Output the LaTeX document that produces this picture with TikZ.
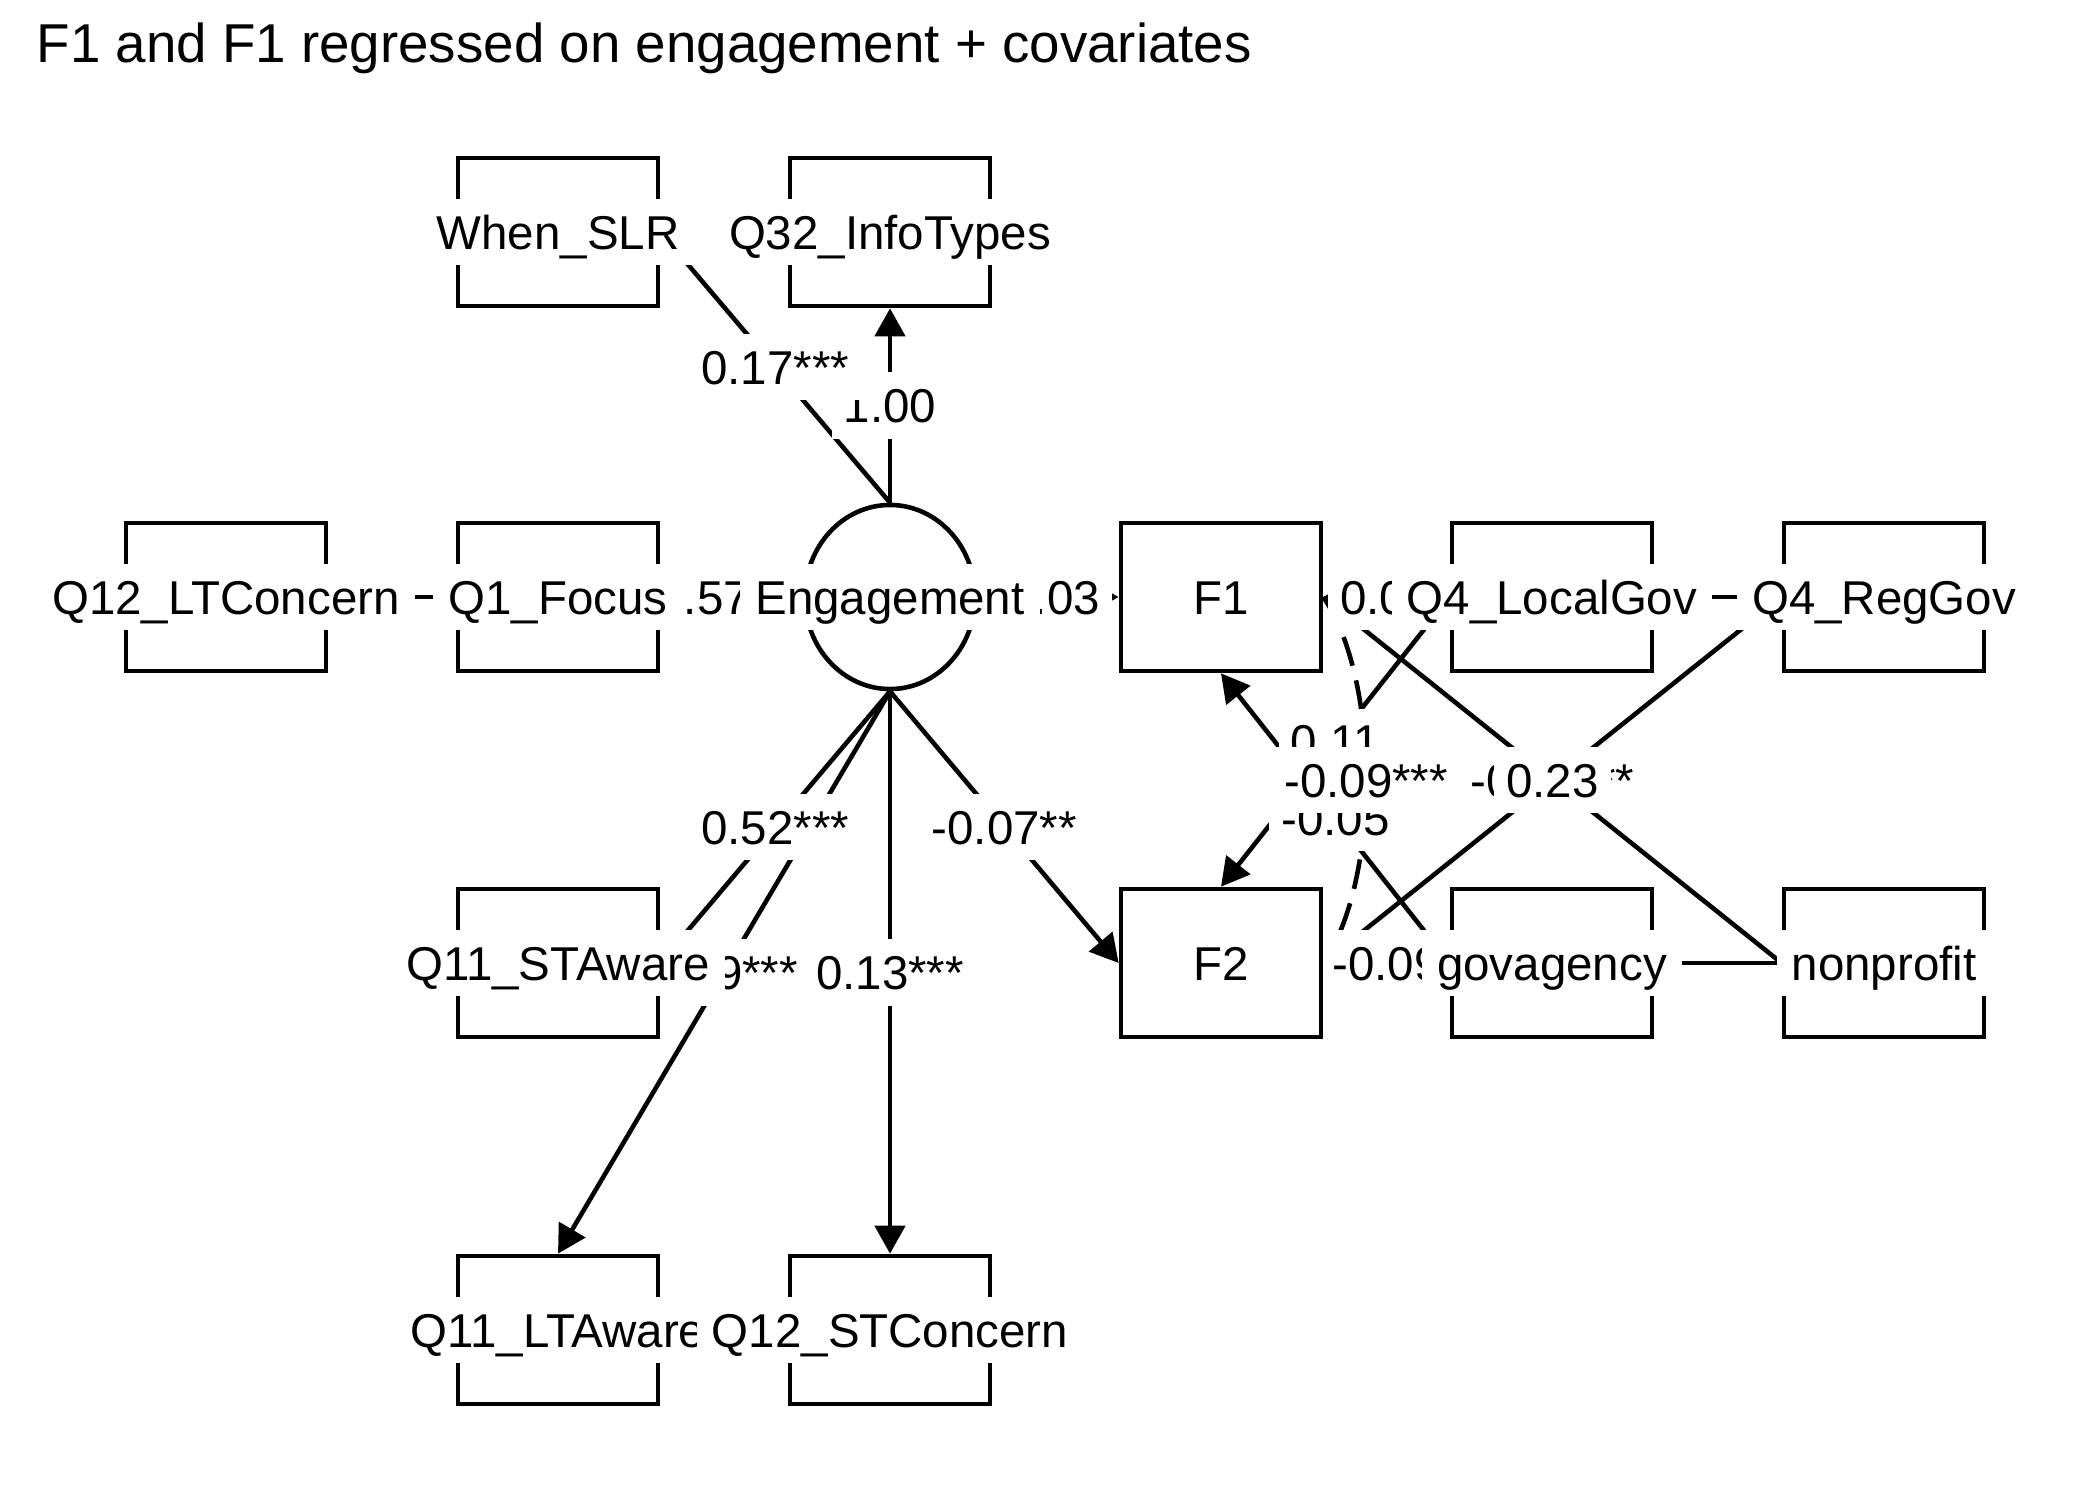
\documentclass[tikz,border=0pt]{standalone}
\usepackage{fontspec}
\setmainfont{Liberation Sans}
\usetikzlibrary{arrows.meta,shapes.geometric}
\pgfdeclarelayer{bglayer}
\pgfdeclarelayer{edgelayer}
\pgfdeclarelayer{labellayer}
\pgfsetlayers{bglayer,edgelayer,labellayer,main}
\begin{document}
\begin{tikzpicture}[x=0.01cm,y=-0.01cm,
  box/.style={draw,line width=1.3pt,fill=white,rectangle,minimum width=2cm,minimum height=1.48cm,inner sep=0pt},
  lat/.style={draw,line width=1.3pt,fill=white,ellipse,minimum width=1.7cm,minimum height=1.84cm,inner sep=0pt},
  txt/.style={fill=white,inner xsep=0.15cm,inner ysep=0.16cm,text height=0.34cm,text depth=0cm,font=\fontsize{13.5pt}{15pt}\selectfont},
  lbl/.style={txt,inner xsep=0.12cm},
  reg/.style={line width=1.3pt,-{Triangle[length=0.28cm,width=0.30cm]}},
  cov/.style={line width=1.3pt,dash pattern=on 0.3cm off 0.15cm},
]
\begin{pgfonlayer}{bglayer}
\fill[white] (0,0) rectangle (2100,1500);
\end{pgfonlayer}
\useasboundingbox (0,0) rectangle (2100,1500);

\node[anchor=base west,inner sep=0pt,font=\fontsize{15.56pt}{18pt}\selectfont] (title) at (36,63) {F1 and F1 regressed on engagement + covariates};

% boxes
\node[box] (WSLR) at (558,232) {};
\node[box] (Q32) at (890,232) {};
\node[box] (Q12LT) at (226,597) {};
\node[box] (Q1) at (558,597) {};
\node[lat] (Eng) at (890,597) {};
\node[box] (F1) at (1221,597) {};
\node[box] (LG) at (1552,597) {};
\node[box] (RG) at (1884,597) {};
\node[box] (Q11ST) at (558,963) {};
\node[box] (F2) at (1221,963) {};
\node[box] (GA) at (1552,963) {};
\node[box] (NP) at (1884,963) {};
\node[box] (Q11LT) at (558,1330) {};
\node[box] (Q12ST) at (890,1330) {};

% node texts
\node[txt] (WSLRt) at (WSLR) {When\_SLR};
\node[txt] (Q32t) at (Q32) {Q32\_InfoTypes};
\node[txt] (Q12LTt) at (Q12LT) {Q12\_LTConcern};
\node[txt] (Q1t) at (Q1) {Q1\_Focus};
\node[txt] (Engt) at (Eng) {Engagement};
\node[txt] (F1t) at (F1) {F1};
\node[txt] (LGt) at (LG) {Q4\_LocalGov};
\node[txt] (RGt) at (RG) {Q4\_RegGov};
\node[txt] (Q11STt) at (Q11ST) {Q11\_STAware};
\node[txt] (F2t) at (F2) {F2};
\node[txt] (GAt) at (GA) {govagency};
\node[txt] (NPt) at (NP) {nonprofit};
\node[txt] (Q11LTt) at (Q11LT) {Q11\_LTAware};
\node[txt] (Q12STt) at (Q12ST) {Q12\_STConcern};

% edges
\begin{pgfonlayer}{edgelayer}
\draw[reg] (Eng.north) -- (Q32.south);
\draw[reg] (Eng.north) -- (WSLR.east);
\draw[reg] (Eng.west) -- (Q1.east);
\draw[reg] (Eng.west) -- (Q12LT.east);
\draw[reg] (Eng.south) -- (Q11ST.east);
\draw[reg] (Eng.south) -- (Q11LT.north);
\draw[reg] (Eng.south) -- (Q12ST.north);
\draw[reg] (Eng.south) -- (F2.west);
\draw[reg] (Eng.east) -- (F1.west);
\draw[reg] (LG.west) -- (F1.east);
\draw[reg] (RG.west) -- (F1.east);
\draw[reg] (LG.west) -- (F2.north);
\draw[reg] (RG.west) -- (F2.east);
\draw[reg] (GA.west) -- (F1.south);
\draw[reg] (GA.west) -- (F2.east);
\draw[reg] (NP.west) -- (F1.east);
\draw[reg] (NP.west) -- (F2.east);
\draw[cov] (F1.east) .. controls +(57,83) and +(57,-83) .. (F2.east);
\end{pgfonlayer}

% edge labels
\begin{pgfonlayer}{labellayer}
\path (Eng.north) -- (Q32.south) node[lbl,pos=0.5] {1.00};
\path (Eng.north) -- (WSLR.east) node[lbl,pos=0.5] {0.17***};
\path (Eng.west) -- (Q1.east) node[lbl,pos=0.5] {0.57***};
\path (Eng.south) -- (Q11ST.east) node[lbl,pos=0.5] {0.52***};
\path (Eng.south) -- (Q11LT.north) node[lbl,pos=0.5] {0.49***};
\path (Eng.south) -- (Q12ST.north) node[lbl,pos=0.5] {0.13***};
\path (Eng.south) -- (F2.west) node[lbl,pos=0.5] {-0.07**};
\path (Eng.east) -- (F1.west) node[lbl,pos=0.54] {0.03};
\path (LG.west) -- (F1.east) node[lbl,pos=0.5] {0.04};
\path (GA.west) -- (F2.east) node[lbl,pos=0.5] {-0.09};
\path (LG.west) -- (F2.north) node[lbl,pos=0.5] {0.11};
\path (GA.west) -- (F1.south) node[lbl,pos=0.5] {-0.05};
\path (F1.east) .. controls +(57,83) and +(57,-83) .. (F2.east) node[lbl,pos=0.5] {-0.09***};
\path (NP.west) -- (F1.east) node[lbl,pos=0.5] {-0.15***};
\path (RG.west) -- (F2.east) node[lbl,pos=0.5] {0.23};
\end{pgfonlayer}
\end{tikzpicture}
\end{document}
